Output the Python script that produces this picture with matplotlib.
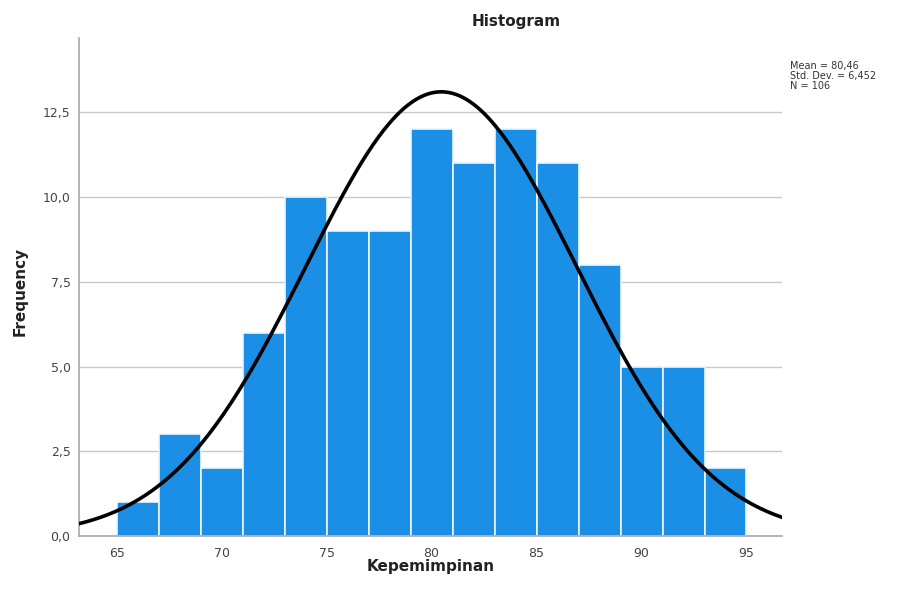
import matplotlib
matplotlib.use("Agg")
import matplotlib.pyplot as plt
import numpy as np
from matplotlib.ticker import FixedLocator, FuncFormatter

# Histogram of Kepemimpinan (SPSS output)
BIN_EDGES = [65, 67, 69, 71, 73, 75, 77, 79, 81, 83, 85, 87, 89, 91, 93, 95]
COUNTS = [1, 3, 2, 6, 10, 9, 9, 12, 11, 12, 11, 8, 5, 5, 2]
X_TICKS = [65, 70, 75, 80, 85, 90, 95]
Y_TICKS = [0.0, 2.5, 5.0, 7.5, 10.0, 12.5]
MEAN = 80.46
STD = 6.452
N = 106

BAR_COLOR = "#1B8EE6"
GRID_COLOR = "#C8C8C8"

fig = plt.figure(figsize=(8.97, 6.01), dpi=100)
ax = fig.add_axes([0.088, 0.108, 0.784, 0.829])

widths = np.diff(BIN_EDGES)
ax.bar(BIN_EDGES[:-1], COUNTS, width=widths, align="edge",
       color=BAR_COLOR, edgecolor="#EAF6FF", linewidth=1.2, zorder=2)

xlo, xhi = 63.2, 96.7
xs = np.linspace(xlo, xhi, 400)
bw = widths[0]
ys = N * bw * np.exp(-0.5 * ((xs - MEAN) / STD) ** 2) / (STD * np.sqrt(2 * np.pi))
ax.plot(xs, ys, color="black", linewidth=2.6, zorder=3)

ax.set_xlim(xlo, xhi)
ax.set_ylim(0, 14.7)
ax.xaxis.set_major_locator(FixedLocator(X_TICKS))
ax.yaxis.set_major_locator(FixedLocator(Y_TICKS))
ax.yaxis.set_major_formatter(FuncFormatter(lambda v, p: f"{v:.1f}".replace(".", ",")))
ax.tick_params(axis="both", length=0, labelsize=9, colors="#444444")
ax.tick_params(axis="x", pad=8)
ax.tick_params(axis="y", pad=6)
ax.grid(True, axis="y", color=GRID_COLOR, linewidth=1.0, zorder=0)
ax.set_axisbelow(True)

for side in ("top", "right"):
    ax.spines[side].set_visible(False)
for side in ("left", "bottom"):
    ax.spines[side].set_color("#A8A8A8")
    ax.spines[side].set_linewidth(1.2)

fig.text(0.576, 0.965, "Histogram", ha="center", va="center",
         fontsize=11, fontweight="bold", color="#222222")
fig.text(0.48, 0.058, "Kepemimpinan", ha="center", va="center",
         fontsize=11, fontweight="bold", color="#222222")
fig.text(0.022, 0.515, "Frequency", ha="center", va="center", rotation=90,
         fontsize=11, fontweight="bold", color="#222222")

stats = f"Mean = {MEAN:.2f}\nStd. Dev. = {STD:.3f}\nN = {N}".replace(".", ",").replace("Std, Dev,", "Std. Dev.")
fig.text(0.881, 0.898, stats, ha="left", va="top", fontsize=7,
         color="#333333", linespacing=1.0)

fig.savefig("out.png", dpi=100)
